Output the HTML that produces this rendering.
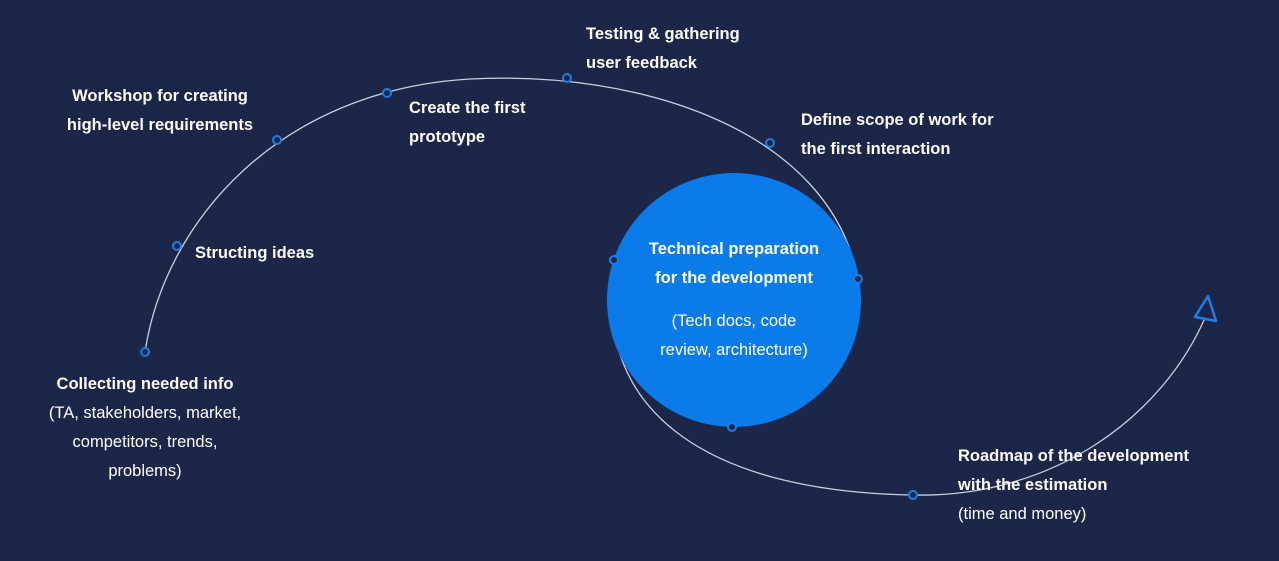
<!DOCTYPE html>
<html><head><meta charset="utf-8"><style>
body{margin:0;width:1279px;height:561px;background:#1c2649;overflow:hidden;position:relative;font-family:"Liberation Sans",sans-serif;color:#fff}
.t{position:absolute;font-size:16.5px;line-height:29px;font-weight:bold;white-space:nowrap}
.n{font-weight:normal}
.c{text-align:center}
</style></head><body>
<svg width="1279" height="561" style="position:absolute;left:0;top:0">
<path d="M145,352 C165,220 280,90 470,79 C640,70 830,130 858,279 L614,260 C590,420 720,492 913,495 C1050,498 1160,420 1205,318" fill="none" stroke="#c9cfdc" stroke-width="1.3"/>
<circle cx="734" cy="300" r="127" fill="#0a7be8"/>
<polygon points="1208,296 1195,317 1216,321" fill="none" stroke="#1a7fe8" stroke-width="2.5" stroke-linejoin="round"/>
<g fill="#1c2649" stroke="#1a7fe8" stroke-width="2">
<circle cx="145" cy="352" r="4"/><circle cx="177" cy="246" r="4"/><circle cx="277" cy="140" r="4"/>
<circle cx="387" cy="93" r="4"/><circle cx="567" cy="78" r="4"/><circle cx="770" cy="143" r="4"/>
<circle cx="858" cy="279" r="4"/><circle cx="614" cy="260" r="4"/><circle cx="732" cy="427" r="4"/>
<circle cx="913" cy="495" r="4"/>
</g>
</svg>
<div class="t c" style="left:20px;top:370px;width:250px">Collecting needed info<br><span class="n">(TA, stakeholders, market,<br>competitors, trends,<br>problems)</span></div>
<div class="t" style="left:195px;top:239px">Structing ideas</div>
<div class="t c" style="left:50px;top:82px;width:220px">Workshop for creating<br>high-level requirements</div>
<div class="t" style="left:409px;top:94px">Create the first<br>prototype</div>
<div class="t" style="left:586px;top:20px">Testing &amp; gathering<br>user feedback</div>
<div class="t" style="left:801px;top:106px">Define scope of work for<br>the first interaction</div>
<div class="t c" style="left:604px;top:235px;width:260px">Technical preparation<br>for the development</div>
<div class="t c n" style="left:604px;top:307px;width:260px">(Tech docs, code<br>review, architecture)</div>
<div class="t" style="left:958px;top:442px">Roadmap of the development<br>with the estimation<br><span class="n">(time and money)</span></div>
</body></html>
